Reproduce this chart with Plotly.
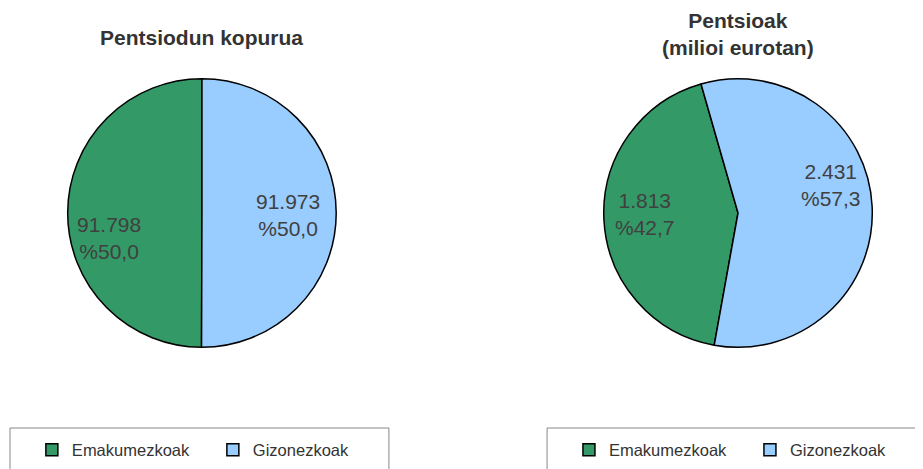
import math
import plotly.graph_objects as go

labels = ["Emakumezkoak", "Gizonezkoak"]
pensioners = [91798, 91973]
pensions_meur = [1813, 2431]
titles = ["Pentsiodun kopurua", "Pentsioak<br>(milioi eurotan)"]
colors = ["#339966", "#99CCFF"]

W, H = 923, 469
OFF = 8  # page body margin: the figure is drawn at (8, 8) in the page
FONT = "Liberation Sans, Arial, sans-serif"

def px(x):
    return (x - OFF) / W

def py(y):
    return 1 - (y - OFF) / H

def fmt_int(v):
    return f"{v:,}".replace(",", ".")

def make_text(vals):
    tot = sum(vals)
    out = []
    for v in vals:
        pct = f"{100 * v / tot:.1f}".replace(".", ",")
        out.append(f"{fmt_int(v)}<br>%{pct}")
    return out

R = 135
pies = [
    dict(vals=pensioners, cx=203, cy=213, b0=0, legend="legend", lab=labels,
         title=titles[0], ty=37, nudge=[(4, 25), (-11, 2)]),
    dict(vals=pensions_meur, cx=742, cy=213, b0=-16, legend="legend2",
         lab=[l + " " for l in labels], title=titles[1], ty=34, nudge=[(4, -4), (-4, -23)]),
]

fig = go.Figure()
for p in pies:
    cx, cy = p["cx"], p["cy"]
    tot = sum(p["vals"])
    spans = [360 * v / tot for v in p["vals"]]
    # green slice sits counter-clockwise of the start angle b0, blue clockwise of it
    rot = p["b0"] - spans[0]
    fig.add_trace(go.Pie(
        labels=p["lab"], values=p["vals"],
        textinfo="none", sort=False, direction="clockwise", rotation=rot,
        marker=dict(colors=colors, line=dict(color="#000000", width=1.5)),
        domain=dict(x=[px(cx - R), px(cx + R)], y=[py(cy + R), py(cy - R)]),
        legend=p["legend"], hoverinfo="label+value+percent",
    ))
    mids = [p["b0"] - spans[0] / 2, p["b0"] + spans[1] / 2]
    for txt, th, (nx, ny) in zip(make_text(p["vals"]), mids, p["nudge"]):
        rl = 0.72 * R
        lx = cx + rl * math.sin(math.radians(th)) + nx
        ly = cy - rl * math.cos(math.radians(th)) + ny
        fig.add_annotation(x=px(lx), y=py(ly), xref="paper", yref="paper",
                           xanchor="center", yanchor="middle", text=txt, showarrow=False,
                           font=dict(family=FONT, size=21, color="#404040"))
    fig.add_annotation(x=px(cx), y=py(p["ty"]), xref="paper", yref="paper",
                       xanchor="center", yanchor="middle",
                       text="<b>" + p["title"] + "</b>", showarrow=False,
                       font=dict(family=FONT, size=21, color="#333333"))

# legend boxes
fig.add_shape(type="rect", xref="paper", yref="paper",
              x0=px(10), x1=px(391), y0=-0.1, y1=py(428),
              line=dict(color="#888888", width=1), fillcolor="rgba(0,0,0,0)")
fig.add_shape(type="rect", xref="paper", yref="paper",
              x0=px(550), x1=1.1, y0=-0.1, y1=py(428),
              line=dict(color="#888888", width=1), fillcolor="rgba(0,0,0,0)")

leg_common = dict(orientation="h", yanchor="middle", xanchor="left",
                  font=dict(family=FONT, size=16.5, color="#333333"),
                  bgcolor="rgba(0,0,0,0)", borderwidth=0,
                  entrywidth=136, entrywidthmode="pixels",
                  itemclick=False, itemdoubleclick=False)
fig.update_layout(
    width=W, height=H,
    margin=dict(l=0, r=0, t=0, b=0),
    paper_bgcolor="#ffffff", plot_bgcolor="#ffffff",
    showlegend=True,
    legend=dict(x=px(32), y=py(450), **leg_common),
    legend2=dict(x=px(572), y=py(450), **leg_common),
)

fig.write_html("out.html", config={"displayModeBar": False})
